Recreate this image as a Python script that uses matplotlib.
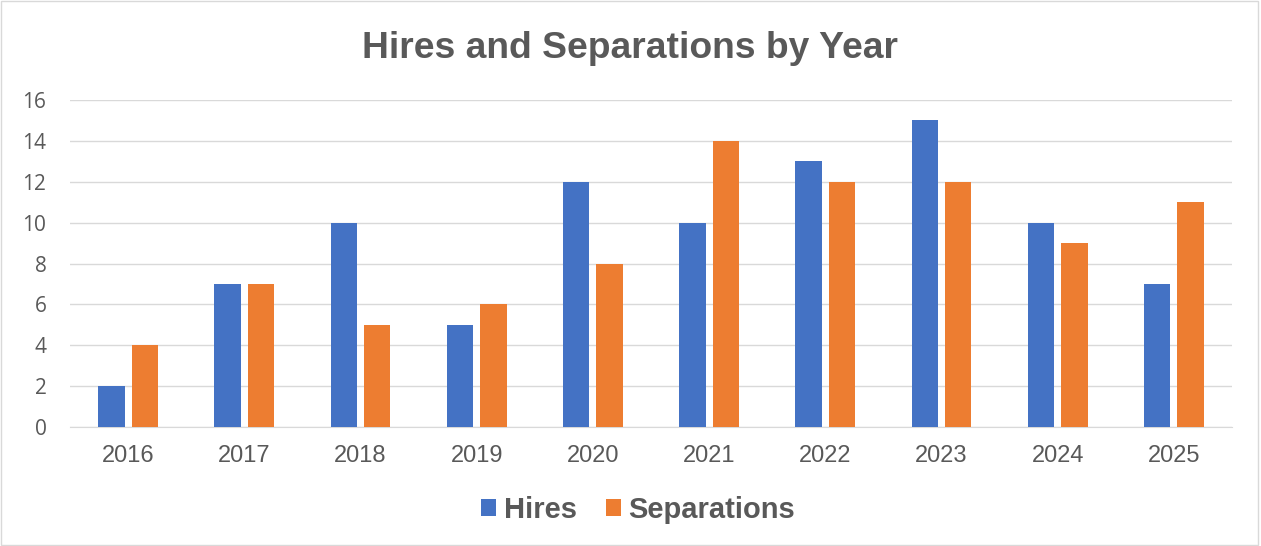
import matplotlib.pyplot as plt
import numpy as np

# data
years = ['2016', '2017', '2018', '2019', '2020', '2021', '2022', '2023', '2024', '2025']
hires = [2, 7, 10, 5, 12, 10, 13, 15, 10, 7]
separations = [4, 7, 5, 6, 8, 14, 12, 12, 9, 11]

BLUE = '#4472C4'
ORANGE = '#ED7D31'
GRAY = '#595959'

plt.rcParams['font.family'] = ['Liberation Sans', 'DejaVu Sans']

fig = plt.figure(figsize=(12.61, 5.46), dpi=100)
ax = fig.add_axes([70 / 1261, 119 / 546, 1162 / 1261, 327 / 546])

x = np.arange(len(years))
w = 0.228
gap = 0.06
ax.bar(x - (w + gap) / 2, hires, w, color=BLUE, label='Hires', zorder=3)
ax.bar(x + (w + gap) / 2, separations, w, color=ORANGE, label='Separations', zorder=3)

ax.set_xlim(-0.5, len(years) - 0.5)
ax.set_ylim(0, 16)
ax.set_yticks(range(0, 17, 2))
ax.set_xticks(x)
ax.set_xticklabels(years)
ax.grid(axis='y', color='#D9D9D9', linewidth=1, zorder=0)
for s in ['top', 'right', 'left']:
    ax.spines[s].set_visible(False)
ax.spines['bottom'].set_color('#D9D9D9')
ax.tick_params(axis='both', length=0, labelcolor=GRAY)
ax.tick_params(axis='x', pad=13, labelsize=17)
ax.tick_params(axis='y', pad=17)
for t in ax.get_yticklabels():
    t.set_family(['Open Sans', 'DejaVu Sans'])
    t.set_fontsize(15)

fig.text(0.5, 1 - 48 / 546, 'Hires and Separations by Year', ha='center', va='center',
         fontsize=26.8, fontweight='bold', color=GRAY)

leg = fig.legend(loc='center', bbox_to_anchor=(638 / 1261, 1 - 510 / 546), ncol=2, frameon=False,
                 prop={'size': 21, 'weight': 'bold'}, handlelength=0.52, handleheight=0.52,
                 columnspacing=1.0, handletextpad=0.25)
for t in leg.get_texts():
    t.set_color(GRAY)

# light frame around the whole chart
fig.patches.append(plt.Rectangle((0.001, 0.002), 0.997, 0.996, transform=fig.transFigure,
                                 fill=False, edgecolor='#D9D9D9', linewidth=1))

fig.savefig('out.png', dpi=100)
